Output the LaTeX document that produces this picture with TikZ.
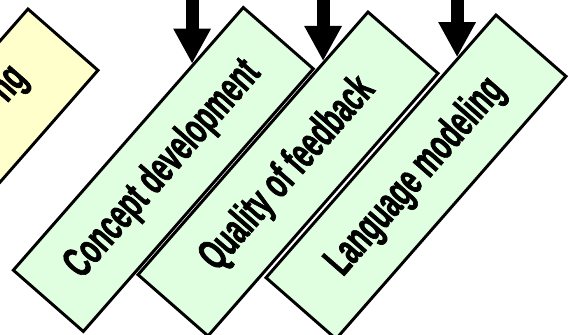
\documentclass[tikz,border=0pt]{standalone}
\usepackage{fontspec}
\newfontfamily\boxfont[FakeStretch=0.6,FakeBold=1.5]{Liberation Sans Bold}
\usetikzlibrary{calc,arrows.meta}
\definecolor{boxgreen}{RGB}{224,255,224}
\definecolor{boxyellow}{RGB}{255,255,204}
\tikzset{
  tilted box/.style={
    draw=black,
    line width=2.1pt,
    rotate=48.8,
    minimum width=8.725cm,
    minimum height=2.325cm,
    inner sep=0pt,
    font=\boxfont\fontsize{31}{31}\selectfont
  },
  green box/.style={tilted box, fill=boxgreen},
  yellow box/.style={tilted box, fill=boxyellow},
  big arrow/.style={
    line width=9.2pt,
    -{Triangle[width=25pt,length=25pt]}
  }
}

\begin{document}
\begin{tikzpicture}[x=0.025cm,y=0.025cm]
\useasboundingbox (0,0) rectangle (569,334);
\clip (0,0) rectangle (569,334);
\coordinate (top) at (0,350);
% left box, mostly cut off
\node[yellow box] (yl) at (-52,163) {};
\node[rotate=48.8, anchor=base east, inner sep=0pt, font=\boxfont\fontsize{31}{31}\selectfont] (yl-text) at ($(yl.center)+(48.8:122)$) {ng};
% the three tilted boxes
\foreach \name/\x/\y/\txt in {cd/163.3/164.5/Concept development, qf/288/160/Quality of feedback, lm/416/157/Language modeling}
  \node[green box] (\name) at (\x,\y) {\txt};
% arrows from above
\foreach \name/\frac in {cd/0.78, qf/0.807, lm/0.833} {
  \coordinate (\name-tip) at ($(\name.north west)!\frac!(\name.north east)$);
  \draw[big arrow] (\name-tip |- top) -- (\name-tip);
}
\end{tikzpicture}
\end{document}
